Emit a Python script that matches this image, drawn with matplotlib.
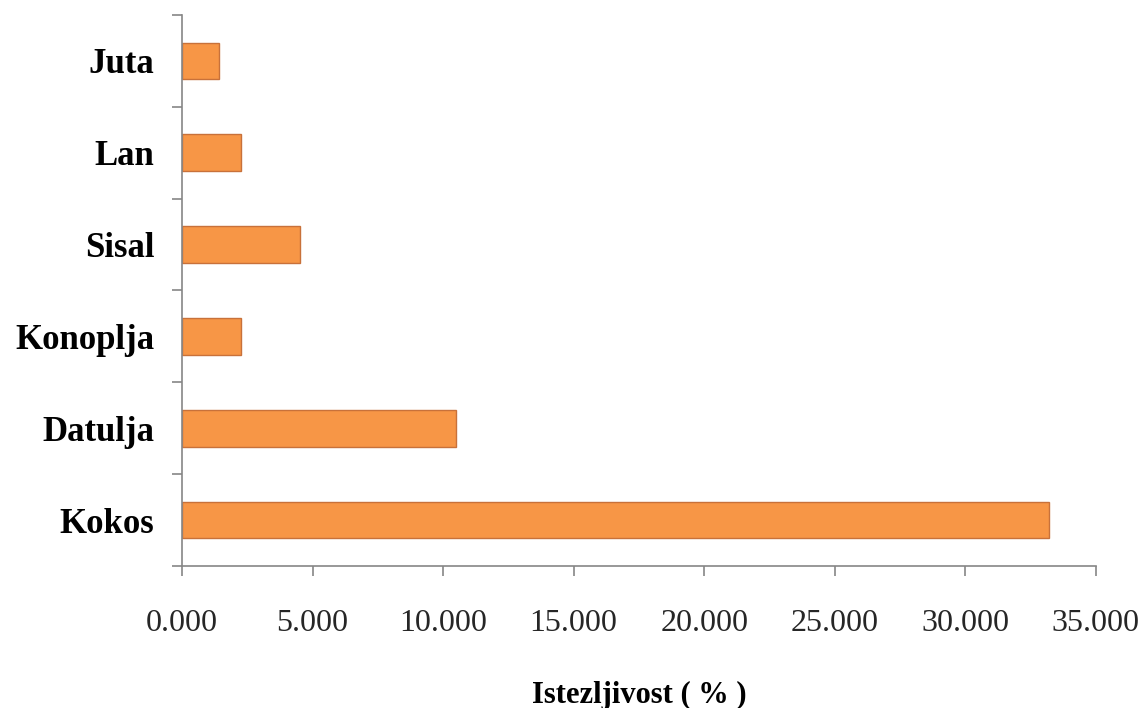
import matplotlib.pyplot as plt

plt.rcParams.update({
    "font.family": "Liberation Serif",
})

categories = ["Kokos", "Datulja", "Konoplja", "Sisal", "Lan", "Juta"]
values = [33.2, 10.48, 2.26, 4.52, 2.26, 1.42]
xticks = [0, 5, 10, 15, 20, 25, 30, 35]
xtick_labels = ["0.000", "5.000", "10.000", "15.000", "20.000", "25.000", "30.000", "35.000"]

fig = plt.figure(figsize=(11.45, 7.08), dpi=100)
ax = fig.add_axes([0.159, 0.2006, 0.798, 0.7782])

ypos = range(len(categories))
ax.barh(ypos, values, height=0.4, color="#F79646", edgecolor="#C8713A", linewidth=1.0)

ax.set_xlim(0, 35)
ax.set_ylim(-0.5, len(categories) - 0.5)
ax.set_xticks(xticks)
ax.set_xticklabels(xtick_labels, fontsize=23, color="#262626")

# category ticks sit between bars, labels centered on bars
ax.set_yticks([i - 0.5 for i in range(len(categories) + 1)])
ax.set_yticklabels([])
ax.set_yticks(list(ypos), minor=True)
ax.set_yticklabels(categories, minor=True, fontsize=25, fontweight="bold")
ax.tick_params(axis="y", which="minor", length=0, pad=20)
ax.tick_params(axis="y", which="major", length=7, color="#868686", width=1.2)
ax.tick_params(axis="x", length=7, color="#868686", width=1.2, pad=24)

for s in ["top", "right"]:
    ax.spines[s].set_visible(False)
for s in ["left", "bottom"]:
    ax.spines[s].set_color("#868686")
    ax.spines[s].set_linewidth(1.2)

ax.set_xlabel("Istezljivost ( % )", fontsize=22, fontweight="bold", labelpad=31)

fig.savefig("out.png", dpi=100)
